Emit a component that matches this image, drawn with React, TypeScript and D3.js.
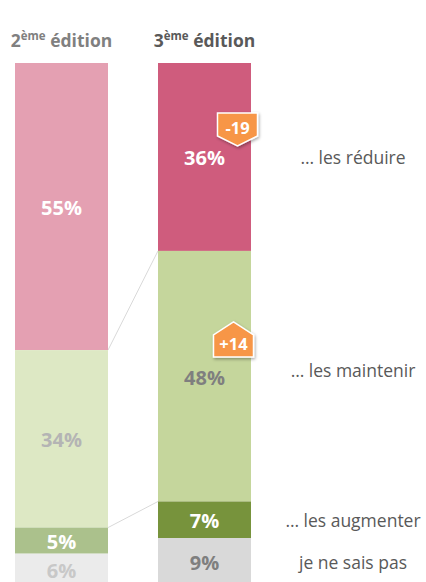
import React from "react";
import * as d3 from "d3";

const editionNums = ["2", "3"];
const editionSup = "ème";
const editionWord = "édition";
const categories = ["… les réduire", "… les maintenir", "… les augmenter", "je ne sais pas"];
const values2 = [55, 34, 5, 6];
const values3 = [36, 48, 7, 9];
const deltas3 = [-19, 14, null, null];

const colors2 = ["#E4A0B2", "#DDE8C4", "#ABC18C", "#EBEBEB"];
const colors3 = ["#CF5C7D", "#C5D69C", "#77933C", "#D9D9D9"];
const labelColors2 = ["#FFFFFF", "#B4B4B4", "#FFFFFF", "#C8C8C8"];
const labelColors3 = ["#FFFFFF", "#7F7F7F", "#FFFFFF", "#7F7F7F"];
const catLabelShift = [0, -6, 0, 0];

const W = 426;
const H = 582;
const FONT = "'Open Sans', 'DejaVu Sans', sans-serif";

export default function App() {
  const x = d3.scaleBand<string>().domain(editionNums).range([15, 251]).paddingInner(50 / 143).paddingOuter(0);
  const y = d3.scaleLinear().domain([0, 100]).range([63, 585]);
  const bw = x.bandwidth();

  const stackOf = (vals: number[]) => {
    let acc = 0;
    return vals.map((v) => {
      const s = acc;
      acc += v;
      return { v, s, e: acc };
    });
  };
  const series = [
    { key: editionNums[0], segs: stackOf(values2), colors: colors2, lc: labelColors2 },
    { key: editionNums[1], segs: stackOf(values3), colors: colors3, lc: labelColors3 },
  ];

  const s1 = series[0].segs;
  const s2 = series[1].segs;
  const x1r = (x(editionNums[0]) as number) + bw;
  const x2l = x(editionNums[1]) as number;
  const x2c = x2l + bw / 2;

  const badge = (d: number, segStart: number, i: number) => {
    const bwid = 40;
    if (d < 0) {
      const top = y(segStart) + 50;
      const cx = x2c + 33;
      const p = [
        [cx - bwid / 2, top],
        [cx + bwid / 2, top],
        [cx + bwid / 2, top + 23],
        [cx, top + 33],
        [cx - bwid / 2, top + 23],
      ];
      return (
        <g key={"b" + i}>
          <polygon points={p.map((q) => q.join(",")).join(" ")} fill="#F79646" stroke="#FFFFFF" strokeWidth={1.5} filter="url(#sh)" />
          <text x={cx} y={top + 14} textAnchor="middle" dominantBaseline="central" fill="#FFFFFF" fontFamily={FONT} fontWeight={700} fontSize={16.5}>
            {String(d)}
          </text>
        </g>
      );
    }
    const top = y(segStart) + 71;
    const cx = x2c + 29;
    const p = [
      [cx, top],
      [cx + bwid / 2, top + 13],
      [cx + bwid / 2, top + 35],
      [cx - bwid / 2, top + 35],
      [cx - bwid / 2, top + 13],
    ];
    return (
      <g key={"b" + i}>
        <polygon points={p.map((q) => q.join(",")).join(" ")} fill="#F79646" stroke="#FFFFFF" strokeWidth={1.5} filter="url(#sh)" />
        <text x={cx} y={top + 22} textAnchor="middle" dominantBaseline="central" fill="#FFFFFF" fontFamily={FONT} fontWeight={700} fontSize={16.5}>
          {"+" + d}
        </text>
      </g>
    );
  };

  return (
    <svg width={W} height={H} style={{ position: "absolute", left: 0, top: 0, background: "#FFFFFF" }}>
      <defs>
        <filter id="sh" x="-30%" y="-30%" width="160%" height="160%">
          <feDropShadow dx={1} dy={1.5} stdDeviation={1.5} floodColor="#000" floodOpacity={0.35} />
        </filter>
      </defs>

      {/* headers */}
      {series.map((s, i) => (
        <text
          key={"h" + i}
          x={(x(s.key) as number) + bw / 2}
          y={46.5}
          textAnchor="middle"
          fontFamily={FONT}
          fontWeight={700}
          fontSize={17.5}
          fill={i === 0 ? "#808080" : "#595959"}
        >
          <tspan>{editionNums[i]}</tspan>
          <tspan fontSize={11.5} dy={-7}>{editionSup}</tspan>
          <tspan dy={7}>{" " + editionWord}</tspan>
        </text>
      ))}

      {/* connectors */}
      <line x1={x1r} y1={y(s1[1].s)} x2={x2l} y2={y(s2[1].s)} stroke="#D9D9D9" strokeWidth={1} />
      <line x1={x1r} y1={y(s1[2].s)} x2={x2l} y2={y(s2[2].s)} stroke="#D9D9D9" strokeWidth={1} />

      {/* bars */}
      {series.map((s, i) => (
        <g key={"bar" + i}>
          {s.segs.map((g, j) => (
            <rect key={j} x={x(s.key)} y={y(g.s)} width={bw} height={y(g.e) - y(g.s)} fill={s.colors[j]} />
          ))}
          {s.segs.map((g, j) => (
            <text
              key={"t" + j}
              x={(x(s.key) as number) + bw / 2}
              y={(y(g.s) + y(g.e)) / 2 + 1}
              textAnchor="middle"
              dominantBaseline="central"
              fontFamily={FONT}
              fontWeight={700}
              fontSize={20}
              fill={s.lc[j]}
            >
              {g.v + "%"}
            </text>
          ))}
        </g>
      ))}

      {/* badges */}
      {deltas3.map((d, i) => (d == null ? null : badge(d, s2[i].s, i)))}

      {/* category labels */}
      {categories.map((c, i) => (
        <text
          key={"c" + i}
          x={353}
          y={(y(s2[i].s) + y(s2[i].e)) / 2 + catLabelShift[i]}
          textAnchor="middle"
          dominantBaseline="central"
          fontFamily={FONT}
          fontSize={17.5}
          fill="#595959"
        >
          {c}
        </text>
      ))}
    </svg>
  );
}
